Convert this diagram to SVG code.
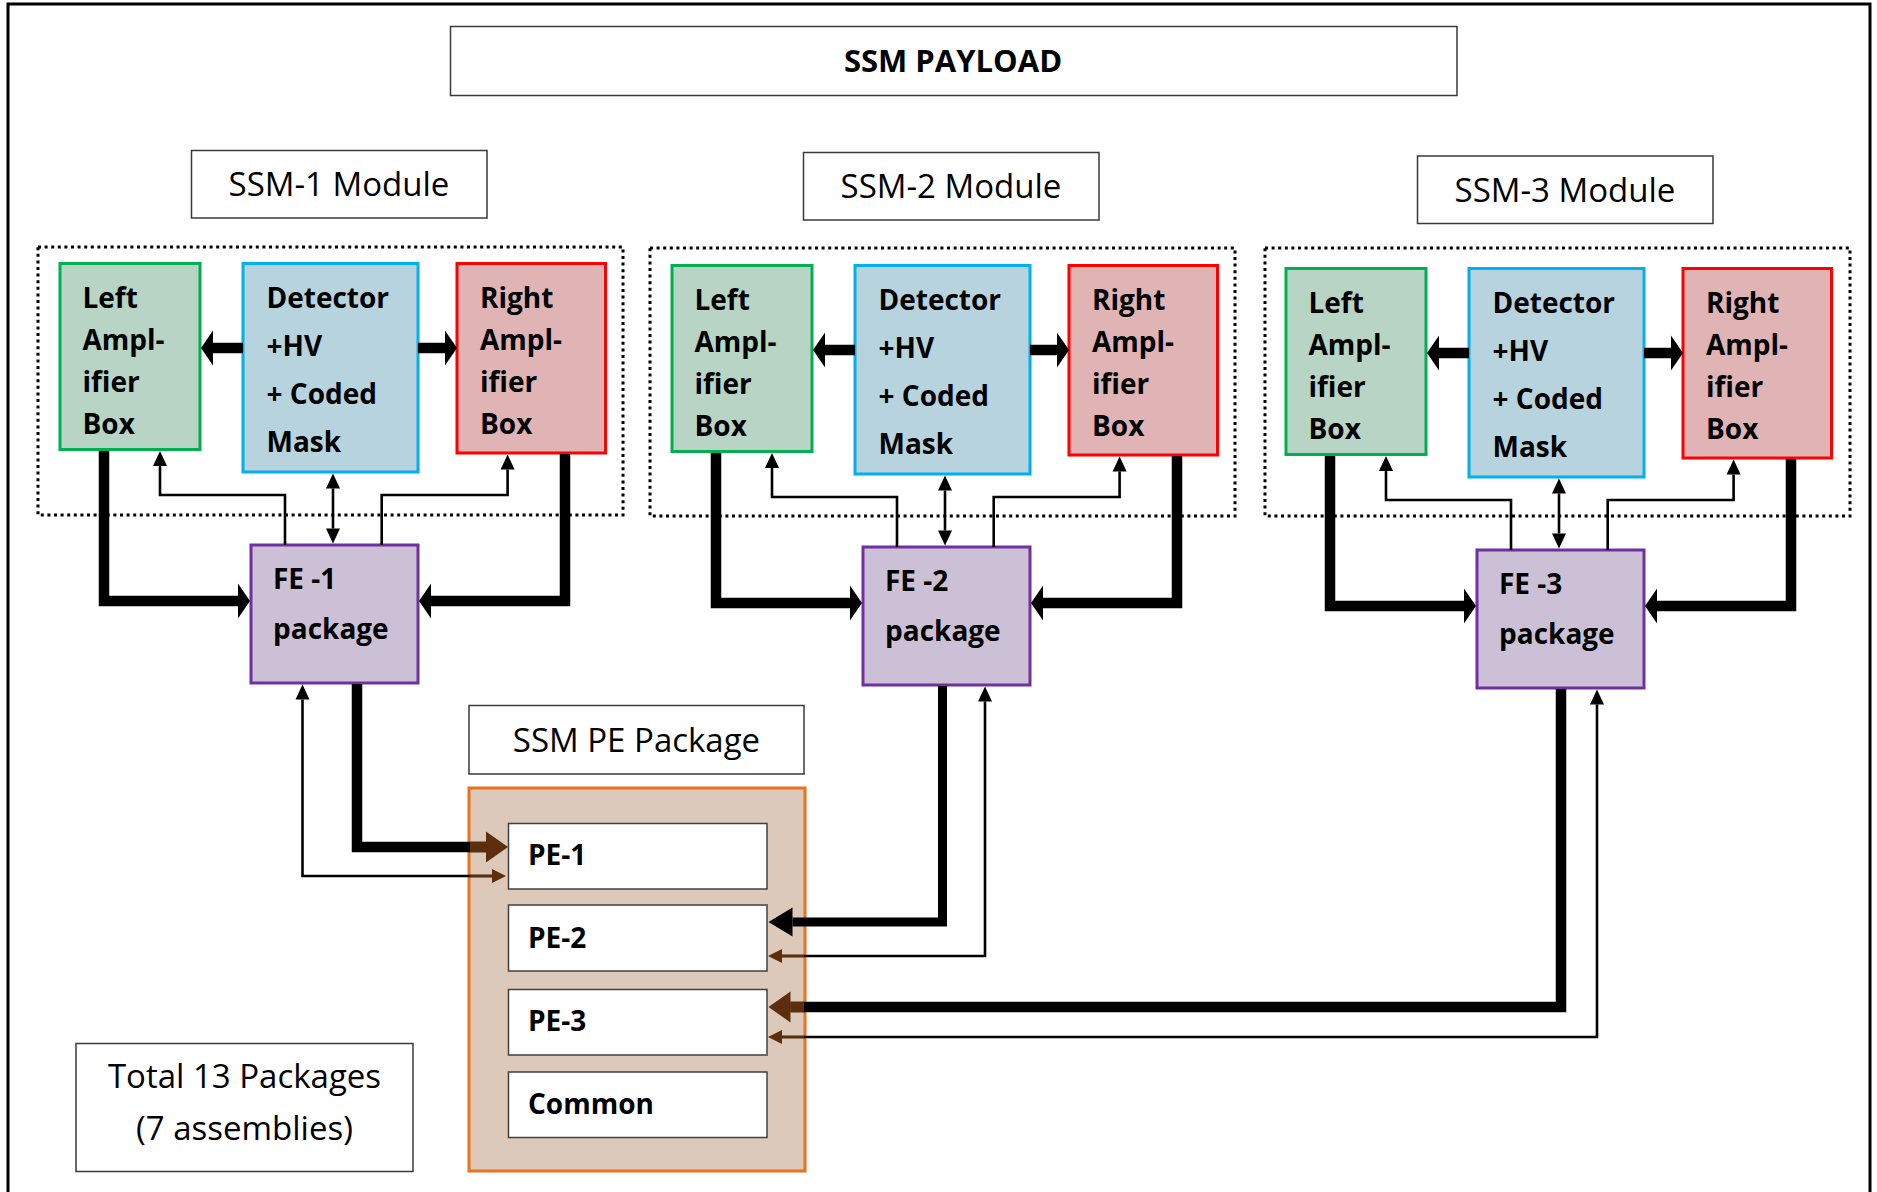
<svg xmlns="http://www.w3.org/2000/svg" width="1877" height="1192" viewBox="0 0 1877 1192">
<defs>
<style>
.lbl{fill:#fff;stroke:#3a3a3a;stroke-width:1.5}
.dot{fill:none;stroke:#000;stroke-width:3;stroke-dasharray:3 3.6}
.la{fill:#b8d4c4;stroke:#00b050;stroke-width:3}
.det{fill:#b7d3de;stroke:#00b0f0;stroke-width:3}
.ra{fill:#e0b4b4;stroke:#ff0000;stroke-width:3}
.fe{fill:#ccc0d6;stroke:#7030a0;stroke-width:3}
.pebox{fill:#dcc9ba;stroke:#e7731c;stroke-width:3}
.pe{fill:#fff;stroke:#404040;stroke-width:1.5}
text{font-family:"Open Sans","Liberation Sans",sans-serif;fill:#000}
.t{font-size:33px}
.b{font-size:28px;font-weight:700}
.h{font-size:31px;font-weight:700}
.c{text-anchor:middle}
.thin{fill:none;stroke:#000;stroke-width:2.6}
.thick{fill:none;stroke:#000;stroke-width:10.5;stroke-linejoin:miter}
.brn{stroke:#5c2e0b}
</style>
<marker id="ah" markerUnits="userSpaceOnUse" markerWidth="15" markerHeight="14" refX="0" refY="7" orient="auto-start-reverse" overflow="visible"><path d="M0,0 L15,7 L0,14z" fill="#000"/></marker>
<marker id="ahb" markerUnits="userSpaceOnUse" markerWidth="14" markerHeight="14" refX="0" refY="7" orient="auto" overflow="visible"><path d="M0,0 L14,7 L0,14z" fill="#5c2e0b"/></marker>
<marker id="ak" markerUnits="userSpaceOnUse" markerWidth="12" markerHeight="35" refX="0" refY="17.5" orient="auto" overflow="visible"><path d="M0,0 L12,17.5 L0,35z" fill="#000"/></marker>
<marker id="ap" markerUnits="userSpaceOnUse" markerWidth="24" markerHeight="29" refX="0" refY="14.5" orient="auto" overflow="visible"><path d="M0,0 L24,14.5 L0,29z" fill="#000"/></marker>
<marker id="apb" markerUnits="userSpaceOnUse" markerWidth="22" markerHeight="31" refX="0" refY="15.5" orient="auto" overflow="visible"><path d="M0,0 L22,15.5 L0,31z" fill="#5c2e0b"/></marker>
</defs>
<rect width="1877" height="1192" fill="#fff"/>
<rect id="frame" x="8" y="4" width="1862" height="1210" fill="none" stroke="#000" stroke-width="3"/>

<g id="ssm-payload"><rect class="lbl" x="450.5" y="26.5" width="1006.5" height="69"/><text class="h c" x="953" y="72">SSM PAYLOAD</text></g>

<!-- Module 1 -->
<g id="ssm1-group"><rect class="dot" x="38" y="247" width="585" height="268"/></g>
<g id="ssm1-label"><rect class="lbl" x="191.5" y="150.5" width="295.5" height="67.5"/><text class="t c" x="339" y="196">SSM-1 Module</text></g>
<g id="left-amp-1"><rect class="la" x="60" y="263.5" width="140" height="186"/><text class="b" x="82.5"><tspan x="82.5" y="308">Left</tspan><tspan x="82.5" y="350">Ampl-</tspan><tspan x="82.5" y="392">ifier</tspan><tspan x="82.5" y="434">Box</tspan></text></g>
<g id="detector-1"><rect class="det" x="243" y="263.5" width="175" height="208.5"/><text class="b"><tspan x="266.5" y="308">Detector</tspan><tspan x="266.5" y="356">+HV</tspan><tspan x="266.5" y="404">+ Coded</tspan><tspan x="266.5" y="452">Mask</tspan></text></g>
<g id="right-amp-1"><rect class="ra" x="457" y="263.5" width="148.5" height="189.5"/><text class="b"><tspan x="480" y="308">Right</tspan><tspan x="480" y="350">Ampl-</tspan><tspan x="480" y="392">ifier</tspan><tspan x="480" y="434">Box</tspan></text></g>
<g id="fe-1"><rect class="fe" x="251" y="545" width="167" height="138"/><text class="b"><tspan x="273" y="589">FE -1</tspan><tspan x="273" y="639">package</tspan></text></g>

<!-- Module 2 -->
<g id="ssm2-group"><rect class="dot" x="650" y="248" width="585" height="268"/></g>
<g id="ssm2-label"><rect class="lbl" x="803.5" y="152.5" width="295.5" height="67.5"/><text class="t c" x="951" y="198">SSM-2 Module</text></g>
<g id="left-amp-2"><rect class="la" x="672" y="265.5" width="140" height="186"/><text class="b"><tspan x="694.5" y="310">Left</tspan><tspan x="694.5" y="352">Ampl-</tspan><tspan x="694.5" y="394">ifier</tspan><tspan x="694.5" y="436">Box</tspan></text></g>
<g id="detector-2"><rect class="det" x="855" y="265.5" width="175" height="208.5"/><text class="b"><tspan x="878.5" y="310">Detector</tspan><tspan x="878.5" y="358">+HV</tspan><tspan x="878.5" y="406">+ Coded</tspan><tspan x="878.5" y="454">Mask</tspan></text></g>
<g id="right-amp-2"><rect class="ra" x="1069" y="265.5" width="148.5" height="189.5"/><text class="b"><tspan x="1092" y="310">Right</tspan><tspan x="1092" y="352">Ampl-</tspan><tspan x="1092" y="394">ifier</tspan><tspan x="1092" y="436">Box</tspan></text></g>
<g id="fe-2"><rect class="fe" x="863" y="547" width="167" height="138"/><text class="b"><tspan x="885" y="591">FE -2</tspan><tspan x="885" y="641">package</tspan></text></g>

<!-- Module 3 -->
<g id="ssm3-group"><rect class="dot" x="1265" y="248" width="585" height="268"/></g>
<g id="ssm3-label"><rect class="lbl" x="1417.5" y="156" width="295.5" height="67.5"/><text class="t c" x="1565" y="201.5">SSM-3 Module</text></g>
<g id="left-amp-3"><rect class="la" x="1286" y="268.5" width="140" height="186"/><text class="b"><tspan x="1308.5" y="313">Left</tspan><tspan x="1308.5" y="355">Ampl-</tspan><tspan x="1308.5" y="397">ifier</tspan><tspan x="1308.5" y="439">Box</tspan></text></g>
<g id="detector-3"><rect class="det" x="1469" y="268.5" width="175" height="208.5"/><text class="b"><tspan x="1492.5" y="313">Detector</tspan><tspan x="1492.5" y="361">+HV</tspan><tspan x="1492.5" y="409">+ Coded</tspan><tspan x="1492.5" y="457">Mask</tspan></text></g>
<g id="right-amp-3"><rect class="ra" x="1683" y="268.5" width="148.5" height="189.5"/><text class="b"><tspan x="1706" y="313">Right</tspan><tspan x="1706" y="355">Ampl-</tspan><tspan x="1706" y="397">ifier</tspan><tspan x="1706" y="439">Box</tspan></text></g>
<g id="fe-3"><rect class="fe" x="1477" y="550" width="167" height="138"/><text class="b"><tspan x="1499" y="594">FE -3</tspan><tspan x="1499" y="644">package</tspan></text></g>

<!-- PE package -->
<g id="pe-label"><rect class="lbl" x="469" y="705.5" width="335" height="68.5"/><text class="t c" x="636.5" y="752">SSM PE Package</text></g>
<g id="pe-package"><rect class="pebox" x="469" y="788" width="336" height="383"/></g>
<g id="pe-1"><rect class="pe" x="508.5" y="823.5" width="258.5" height="65.5"/><text class="b" x="528" y="865">PE-1</text></g>
<g id="pe-2"><rect class="pe" x="508.5" y="905" width="258.5" height="66"/><text class="b" x="528" y="947.5">PE-2</text></g>
<g id="pe-3"><rect class="pe" x="508.5" y="989.5" width="258.5" height="65.5"/><text class="b" x="528" y="1031">PE-3</text></g>
<g id="common"><rect class="pe" x="508.5" y="1072" width="258.5" height="65.5"/><text class="b" x="528" y="1113.5">Common</text></g>
<g id="total"><rect class="lbl" x="76" y="1043.5" width="337" height="128"/><text class="t c" x="244.5" y="1088">Total 13 Packages</text><text class="t c" x="244.5" y="1140">(7 assemblies)</text></g>

<g id="connectors">
<!-- module 1 -->
<path class="thick" d="M243,348 H213" marker-end="url(#ak)"/>
<path class="thick" d="M418,348 H445" marker-end="url(#ak)"/>
<path class="thick" d="M104,451 V601 H238" marker-end="url(#ak)"/>
<path class="thick" d="M565,454 V601 H431" marker-end="url(#ak)"/>
<path class="thin" d="M285,545 V495 H160 V466" marker-end="url(#ah)"/>
<path class="thin" d="M333,488.5 V528.5" marker-start="url(#ah)" marker-end="url(#ah)"/>
<path class="thin" d="M381.7,545 V495 H507.6 V469.5" marker-end="url(#ah)"/>
<!-- module 2 -->
<path class="thick" d="M855,350 H825" marker-end="url(#ak)"/>
<path class="thick" d="M1030,350 H1057" marker-end="url(#ak)"/>
<path class="thick" d="M716,453 V603 H850" marker-end="url(#ak)"/>
<path class="thick" d="M1177,456 V603 H1043" marker-end="url(#ak)"/>
<path class="thin" d="M897,547 V497 H772 V468" marker-end="url(#ah)"/>
<path class="thin" d="M945,490.5 V530.5" marker-start="url(#ah)" marker-end="url(#ah)"/>
<path class="thin" d="M993.7,547 V497 H1119.6 V471.5" marker-end="url(#ah)"/>
<!-- module 3 -->
<path class="thick" d="M1469,353 H1439" marker-end="url(#ak)"/>
<path class="thick" d="M1644,353 H1671" marker-end="url(#ak)"/>
<path class="thick" d="M1330,456 V606 H1464" marker-end="url(#ak)"/>
<path class="thick" d="M1791,459 V606 H1657" marker-end="url(#ak)"/>
<path class="thin" d="M1511,550 V500 H1386 V471" marker-end="url(#ah)"/>
<path class="thin" d="M1559,493.5 V533.5" marker-start="url(#ah)" marker-end="url(#ah)"/>
<path class="thin" d="M1607.7,550 V500 H1733.6 V474.5" marker-end="url(#ah)"/>
<!-- FE to PE -->
<path class="thick" d="M357,684 V847 H486" marker-end="url(#apb)"/>
<path class="thick brn" d="M470,847 H486"/>
<path class="thin" d="M302.5,699.5 V876 H492" marker-start="url(#ah)" marker-end="url(#ahb)"/>
<path class="thin brn" d="M470,876 H492"/>
<path class="thick" style="stroke-width:9" d="M942.5,686 V922 H792.5" marker-end="url(#ap)"/>
<path class="thin" d="M985,701.5 V956 H782" marker-start="url(#ah)" marker-end="url(#ahb)"/>
<path class="thin brn" d="M804,956 H782"/>
<path class="thick" d="M1561,689 V1007 H790.5" marker-end="url(#apb)"/>
<path class="thick brn" d="M804,1007 H790.5"/>
<path class="thin" d="M1597,704.5 V1037 H782" marker-start="url(#ah)" marker-end="url(#ahb)"/>
<path class="thin brn" d="M804,1037 H782"/>
</g>
</svg>
